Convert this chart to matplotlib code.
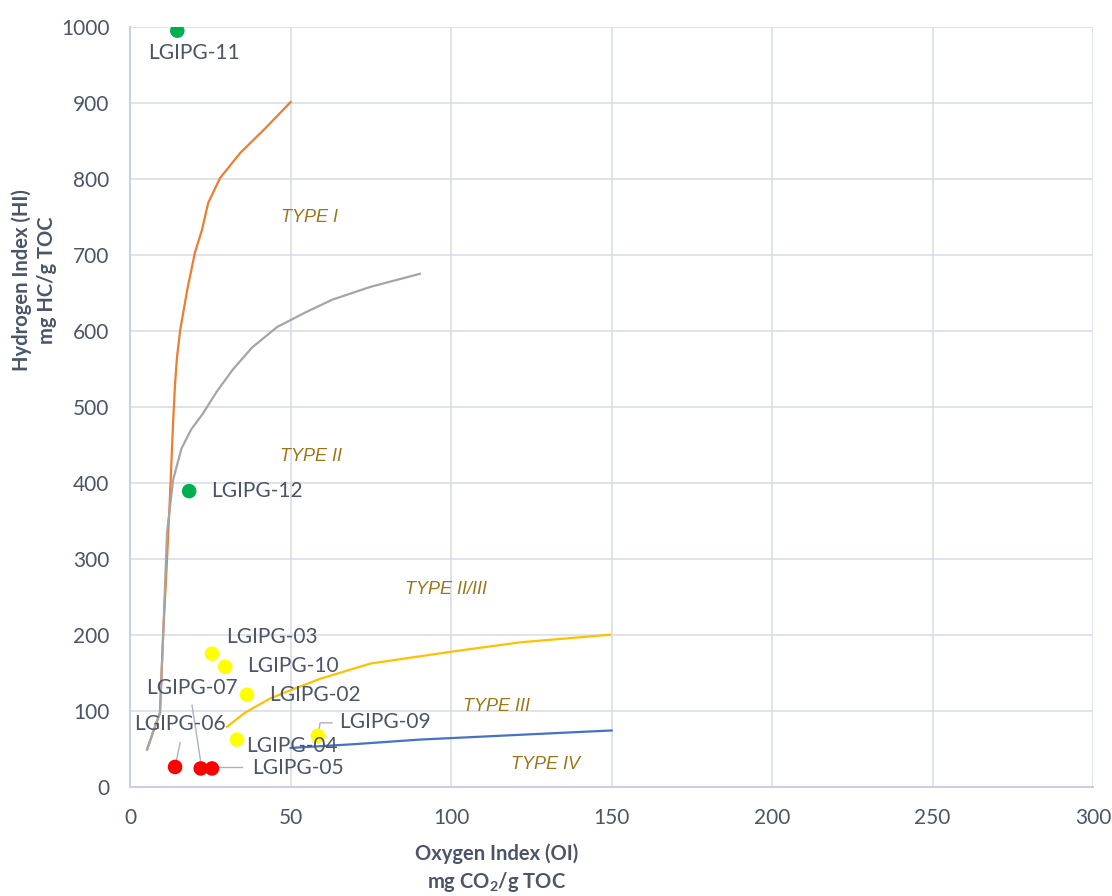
import matplotlib.pyplot as plt
import numpy as np

# kerogen type boundary curves (OI, HI)
type1_oi = [5.3, 7, 9.3, 10.3, 11.5, 12.4, 12.9, 13.4, 14.0, 14.6, 15.6, 17.8, 20.2, 22.4, 24.3, 28, 34.3, 42, 50]
type1_hi = [49, 70, 97, 200, 299, 380, 430, 480, 530, 565, 601, 654, 703, 733, 768, 801, 834, 866, 901]

type2_oi = [5.3, 7, 9.3, 10.3, 11.5, 13.4, 16, 19, 22.5, 27, 32, 38, 45.8, 55, 63, 75, 90.3]
type2_hi = [49, 70, 97, 200, 334, 404, 445, 470, 490, 520, 549, 578, 605, 625, 641, 658, 675]

type23_oi = [30.2, 36, 43.6, 50, 59.2, 74.8, 100.6, 121.5, 149.5]
type23_hi = [79, 98, 116, 127, 142, 162, 178, 190, 200]

type3_oi = [50, 70, 90.3, 120, 150]
type3_hi = [51, 56, 62, 68, 74]

# samples
names = ['LGIPG-11', 'LGIPG-12', 'LGIPG-03', 'LGIPG-10', 'LGIPG-02', 'LGIPG-04',
         'LGIPG-09', 'LGIPG-06', 'LGIPG-07', 'LGIPG-05']
oi = [14.7, 18.4, 25.5, 29.6, 36.4, 33.3, 58.5, 14, 22, 25.5]
hi = [995, 389, 175, 158, 121, 62, 67, 26, 24, 24]
colors = ['#00B050', '#00B050', '#FFFF00', '#FFFF00', '#FFFF00', '#FFFF00',
          '#FFFF00', '#FF0000', '#FF0000', '#FF0000']

# label centres (OI, HI)
label_oi = [19.9, 39.6, 44.2, 50.8, 57.6, 50.5, 79.4, 15.6, 19.3, 52.3]
label_hi = [966, 389, 197, 159, 121, 54, 85, 83, 130, 25]

# leader lines from labels to points
leaders = [
    ([58.7, 59.2, 62.9], [72, 84, 84]),
    ([15.6, 14.3], [58, 32]),
    ([19.3, 22.1], [107, 30]),
    ([27.1, 34.9], [26, 26]),
]

type_labels = ['TYPE I', 'TYPE II', 'TYPE II/III', 'TYPE III', 'TYPE IV']
type_oi = [56, 56.5, 98.5, 114, 129.5]
type_hi = [749, 434, 259, 105, 29]

text_col = '#4A5568'
grid_col = '#D9DEE8'

plt.rcParams['font.family'] = ['Lato', 'DejaVu Sans']

fig = plt.figure(figsize=(11.12, 8.96), dpi=100)
ax = fig.add_axes([0.117, 0.122, 0.866, 0.848])

ax.plot(type1_oi, type1_hi, color='#ED7D31', lw=1.6, zorder=2)
ax.plot(type2_oi, type2_hi, color='#A5A5A5', lw=1.6, zorder=2)
ax.plot(type23_oi, type23_hi, color='#FFC000', lw=1.6, zorder=2)
ax.plot(type3_oi, type3_hi, color='#4472C4', lw=1.6, zorder=2)

ax.scatter(oi, hi, c=colors, s=110, zorder=4, edgecolors='none')

for lx, ly in leaders:
    ax.plot(lx, ly, color='#A9B3C2', lw=1, zorder=3)

for n, x, y in zip(names, label_oi, label_hi):
    ax.text(x, y, n, fontsize=15, color=text_col, ha='center', va='center', zorder=5)

for t, x, y in zip(type_labels, type_oi, type_hi):
    ax.text(x, y, t, fontsize=13, color='#9C7416', style='italic',
            ha='center', va='center', family=['Liberation Sans', 'DejaVu Sans'])

ax.set_xlim(0, 300)
ax.set_ylim(0, 1000)
ax.set_xticks(np.arange(0, 301, 50))
ax.set_yticks(np.arange(0, 1001, 100))
ax.grid(True, color=grid_col, lw=1.2)
ax.set_axisbelow(True)
for s in ['top', 'right']:
    ax.spines[s].set_visible(False)
for s in ['left', 'bottom']:
    ax.spines[s].set_color('#C9D1DF')
    ax.spines[s].set_linewidth(1.5)
ax.tick_params(length=0, labelsize=15, labelcolor=text_col, pad=15)

ax.set_xlabel('Oxygen Index (OI)\nmg CO$_\\mathregular{2}$/g TOC', fontsize=14.5,
              fontweight='bold', color=text_col, linespacing=1.3)
ax.set_ylabel('Hydrogen Index (HI)\nmg HC/g TOC', fontsize=14.5,
              fontweight='bold', color=text_col, linespacing=1.3)
ax.xaxis.set_label_coords(0.381, -0.075)
ax.yaxis.set_label_coords(-0.076, 0.667)

fig.savefig('out.png', dpi=100)
